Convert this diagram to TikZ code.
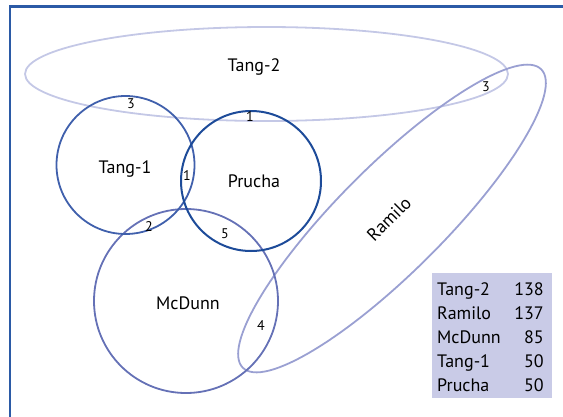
\documentclass[tikz,border=0pt]{standalone}
\usepackage{fontspec}
\setmainfont{PT Sans}
\usetikzlibrary{shapes.geometric}
\definecolor{framecol}{HTML}{2B5AA6}
\definecolor{tangtwocol}{HTML}{C4C8E6}
\definecolor{tangonecol}{HTML}{4060AC}
\definecolor{pruchacol}{HTML}{1D4B99}
\definecolor{mcdunncol}{HTML}{6571B6}
\definecolor{ramilocol}{HTML}{9AA0D2}
\definecolor{tablecol}{HTML}{C9CBE7}
\begin{document}
\begin{tikzpicture}[x=1pt, y=-1pt,
    setshape/.style={draw, inner sep=0pt, line width=1.8pt},
    setname/.style={font=\fontsize{18}{21}\selectfont, anchor=base},
    overlap/.style={font=\fontsize{14}{16}\selectfont, inner sep=0pt}]
    \useasboundingbox (0,0) rectangle (563,416);
    \clip (0,0) rectangle (563,416);
    \node[draw=framecol, line width=2.7pt, inner sep=0pt, minimum width=570pt, minimum height=430pt, anchor=north west] (frame) at (8.7,5.3) {};

    \node[setshape, ellipse, tangtwocol, minimum width=483pt, minimum height=94pt] (tang2) at (266.5,74) {};
    \node[setshape, ellipse, ramilocol, minimum width=422pt, minimum height=106pt, rotate=45] (ramilo) at (392,218.5) {};
    \node[setshape, circle, mcdunncol, minimum size=184pt] (mcdunn) at (186,301) {};
    \node[setshape, circle, tangonecol, minimum size=138pt] (tang1) at (125.5,165) {};
    \node[setshape, circle, pruchacol, line width=2pt, minimum size=140pt] (prucha) at (251,181) {};

    \node[setname] (tang2name) at (254,71) {Tang-2};
    \node[setname] (tang1name) at (125,173) {Tang-1};
    \node[setname] (pruchaname) at (254,187) {Prucha};
    \node[setname] (mcdunnname) at (188,309) {McDunn};
    \node[setname, anchor=center, rotate=45] (ramiloname) at (389,219) {Ramilo};

    \node[overlap] (tang1tang2) at (131,104) {3};
    \node[overlap] (pruchatang2) at (250,117) {1};
    \node[overlap] (tang1prucha) at (187,176) {1};
    \node[overlap] (tang1mcdunn) at (149,227) {2};
    \node[overlap] (pruchamcdunn) at (225,234) {5};
    \node[overlap] (mcdunnramilo) at (261,326) {4};
    \node[overlap] (ramilotang2) at (486,87) {3};

    % counts per set
    \node[fill=tablecol, inner sep=0pt, minimum width=120pt, minimum height=125pt, anchor=north west] (counts) at (432,273) {};
    \foreach \name/\num [count=\i] in {Tang-2/138, Ramilo/137, McDunn/85, Tang-1/50, Prucha/50} {
        \node[setname, anchor=base west, inner sep=0pt] (countname\i) at (437,271+24*\i) {\name};
        \node[setname, anchor=base east, inner sep=0pt] (countnum\i) at (544,271+24*\i) {\num};
    }
\end{tikzpicture}
\end{document}
